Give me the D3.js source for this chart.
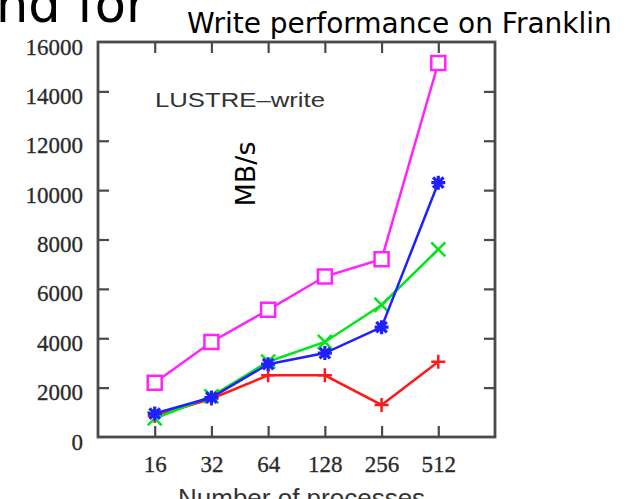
<!DOCTYPE html>
<html>
<head>
<meta charset="utf-8">
<script src="https://cdn.jsdelivr.net/npm/d3@7"></script>
<style>
  html, body { margin: 0; padding: 0; background: #fff; overflow: hidden; }
  svg { display: block; }
</style>
</head>
<body>
<svg id="chart" width="628" height="499"></svg>
<script>
// ---- data ----
const categories = ["16", "32", "64", "128", "256", "512"];
const seriesRed     = [850, 1550, 2500, 2500, 1300, 3050];
const seriesGreen   = [750, 1650, 3050, 3850, 5350, 7600];
const seriesBlue    = [950, 1600, 2950, 3400, 4450, 10300];
const seriesMagenta = [2200, 3850, 5150, 6500, 7200, 15150];
const yTicks = [0, 2000, 4000, 6000, 8000, 10000, 12000, 14000, 16000];

const svg = d3.select("#chart");
const L = 98, R = 495, T = 42, B = 437;

const x = d3.scalePoint().domain(categories).range([L, R]).padding(1);
const y = d3.scaleLinear().domain([0, 16000]).range([B, T]);

const axisColor = "#4a4a4a";
const tickLen = 11;

// slide fragments
svg.append("text").attr("x", -4).attr("y", 22)
  .attr("font-family", "DejaVu Sans").attr("font-size", 51).attr("fill", "#000")
  .text("nd for");
svg.append("text").attr("x", 187).attr("y", 33)
  .attr("font-family", "DejaVu Sans").attr("font-size", 28).attr("fill", "#000")
  .text("Write performance on Franklin");

// axes
function styleAxis(g) {
  g.select(".domain").remove();
  g.selectAll(".tick line").attr("stroke", axisColor).attr("stroke-width", 2.2);
  g.selectAll(".tick text").attr("font-family", "Liberation Serif").attr("font-size", 23)
    .attr("fill", "#2a2a2a").attr("stroke", "#2a2a2a").attr("stroke-width", 0.3);
}
const gLeft = svg.append("g").attr("transform", `translate(${L},0)`)
  .call(d3.axisLeft(y).tickValues(yTicks).tickFormat(d3.format("d")).tickSize(-tickLen).tickPadding(15));
styleAxis(gLeft);
gLeft.selectAll(".tick text").attr("dy", null).attr("y", 12);
gLeft.selectAll(".tick").filter(d => d === 0 || d === 16000).select("line").remove();

const gRight = svg.append("g").attr("transform", `translate(${R},0)`)
  .call(d3.axisRight(y).tickValues(yTicks.slice(1, -1)).tickFormat("").tickSize(-tickLen));
styleAxis(gRight);

const gBottom = svg.append("g").attr("transform", `translate(0,${B})`)
  .call(d3.axisBottom(x).tickSize(-tickLen).tickPadding(0));
styleAxis(gBottom);
gBottom.selectAll(".tick text").attr("dy", null).attr("y", 35);

const gTop = svg.append("g").attr("transform", `translate(0,${T})`)
  .call(d3.axisTop(x).tickFormat("").tickSize(-tickLen));
styleAxis(gTop);

// frame
svg.append("rect").attr("x", L).attr("y", T).attr("width", R - L).attr("height", B - T)
  .attr("fill", "none").attr("stroke", axisColor).attr("stroke-width", 2.8);

// labels
svg.append("text").attr("x", 155).attr("y", 107)
  .attr("font-family", "Liberation Sans").attr("font-size", 20).attr("fill", "#333")
  .attr("textLength", 170).attr("lengthAdjust", "spacingAndGlyphs")
  .text("LUSTRE\u2013write");
svg.append("text").attr("transform", "translate(255,174) rotate(-90)")
  .attr("text-anchor", "middle")
  .attr("font-family", "DejaVu Sans").attr("font-size", 27).attr("fill", "#000")
  .text("MB/s");
svg.append("text").attr("x", 178).attr("y", 507)
  .attr("font-family", "Liberation Sans").attr("font-size", 26).attr("fill", "#333")
  .text("Number of processes");

// series
const s = 7;
const markers = {
  plus: `M${-s},0H${s}M0,${-s}V${s}`,
  cross: `M${-s},${-s}L${s},${s}M${-s},${s}L${s},${-s}`,
  star: `M${-s},0H${s}M0,${-s}V${s}M${-s*0.75},${-s*0.75}L${s*0.75},${s*0.75}M${-s*0.75},${s*0.75}L${s*0.75},${-s*0.75}`,
  square: `M${-s},${-s}H${s}V${s}H${-s}Z`
};
const series = [
  { values: seriesRed, color: "#ff1a1a", marker: "plus" },
  { values: seriesGreen, color: "#00e61a", marker: "cross" },
  { values: seriesBlue, color: "#2020ff", marker: "star" },
  { values: seriesMagenta, color: "#ff22ff", marker: "square" }
];
const line = d3.line().x((d, i) => x(categories[i])).y(d => y(d));
series.forEach(se => {
  const g = svg.append("g");
  g.append("path").datum(se.values).attr("d", line)
    .attr("fill", "none").attr("stroke", se.color).attr("stroke-width", 2.5);
  g.selectAll("path.m").data(se.values).join("path").attr("class", "m")
    .attr("transform", (d, i) => `translate(${x(categories[i])},${y(d)})`)
    .attr("d", markers[se.marker])
    .attr("fill", se.marker === "square" ? "#fff" : "none")
    .attr("stroke", se.color).attr("stroke-width", se.marker === "star" ? 3.2 : 2.5);
});
</script>
</body>
</html>
